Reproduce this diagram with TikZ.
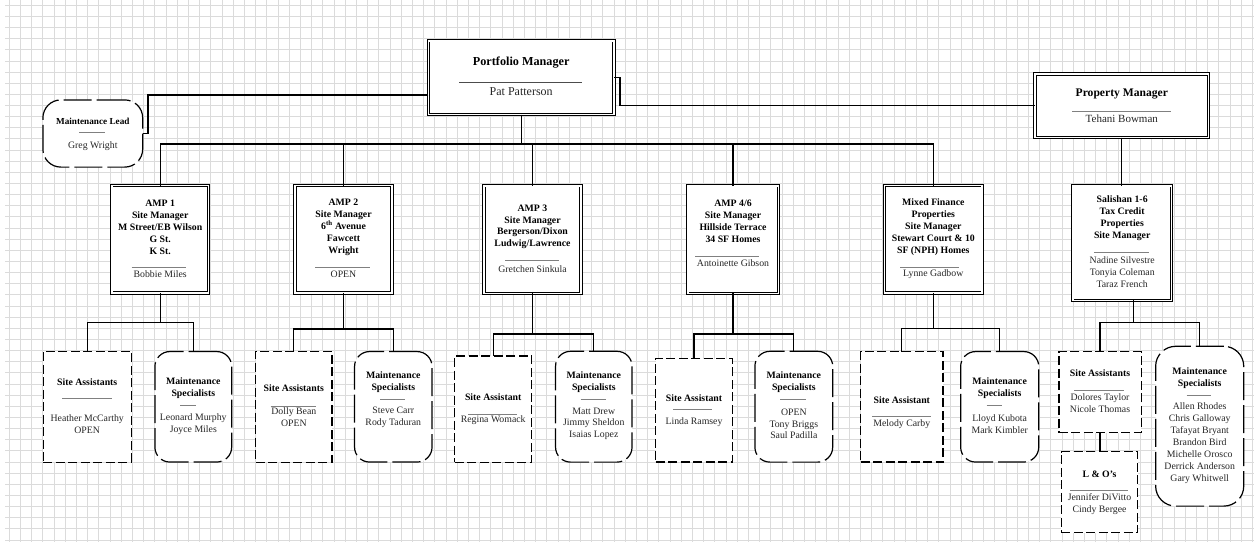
\documentclass[tikz,border=0pt]{standalone}
\usepackage{fontspec}
\setmainfont{Liberation Serif}
\begin{document}
\begin{tikzpicture}[x=1pt,y=-1pt,
  gridline/.style={draw=black!14, line width=1pt},
  mainbox/.style={draw, double, line width=0.9pt, double distance=1.6pt, fill=white, inner sep=0pt, outer sep=0pt},
  dashbox/.style={draw, line width=1.2pt, dash pattern=on 9pt off 3.5pt, fill=white, inner sep=0pt, outer sep=0pt},
  roundbox/.style={draw, line width=1.2pt, rounded corners=15pt, dash pattern=on 28pt off 5pt, fill=white, inner sep=0pt, outer sep=0pt},
  conn/.style={line width=1.1pt},
  sepl/.style={draw=black!50, line width=0.6pt},
  txt/.style={font=\fontsize{9.8}{11.9}\selectfont, align=center, inner sep=0pt, text=black!85},
  hd/.style={font=\fontsize{9.8}{11.9}\selectfont\bfseries, align=center, inner sep=0pt},
  bighd/.style={font=\fontsize{12.2}{14}\selectfont\bfseries, align=center, inner sep=0pt},
  bigtxt/.style={font=\fontsize{12}{14}\selectfont, align=center, inner sep=0pt, text=black!85},
]
\useasboundingbox (0,0) rectangle (1254,542);
\fill[white] (0,0) rectangle (1254,542);
% grid
\foreach \i in {0,...,111} \draw[gridline] ({9.3+11.2*\i},0) -- ({9.3+11.2*\i},542);
\foreach \j in {0,...,48} \draw[gridline] (5,{5.3+11.14*\j}) -- (1254,{5.3+11.14*\j});

% bus coordinates
\coordinate (bt) at (0,144);
\coordinate (b1) at (0,322.7);
\coordinate (b2) at (0,329);
\coordinate (b3) at (0,334);
\coordinate (b4) at (0,334);
\coordinate (b5) at (0,328.3);
\coordinate (b6) at (0,322.7);

% top level boxes
\node[mainbox, minimum width=185.6pt, minimum height=73.9pt] (pm) at (521.2,77.7) {};
\node[mainbox, minimum width=173.6pt, minimum height=63.6pt] (prm) at (1121.8,105.8) {};
\node[roundbox, rounded corners=18pt, minimum width=99.8pt, minimum height=67.2pt] (ml) at (92.8,133.5) {};

% second level
\node[mainbox, minimum width=96.9pt, minimum height=107.3pt] (amp1) at (160.2,239.3) {};
\node[mainbox, minimum width=97pt, minimum height=107.3pt] (amp2) at (343.5,239.3) {};
\node[mainbox, minimum width=97pt, minimum height=107.6pt] (amp3) at (532.5,239.5) {};
\node[mainbox, minimum width=90.6pt, minimum height=107.6pt] (amp4) at (733,239.5) {};
\node[mainbox, minimum width=97.9pt, minimum height=107.3pt] (amp5) at (933.3,239.3) {};
\node[mainbox, minimum width=98.9pt, minimum height=114.6pt] (sal) at (1122.2,243) {};

% third level
\node[dashbox, minimum width=87.8pt, minimum height=110.8pt] (sa1) at (87.2,406.7) {};
\node[roundbox, minimum width=76.8pt, minimum height=110.5pt] (ms1) at (193.3,406.8) {};
\node[dashbox, minimum width=76.5pt, minimum height=110.8pt] (sa2) at (293.8,406.7) {};
\node[roundbox, minimum width=77.5pt, minimum height=110.5pt] (ms2) at (393.3,406.8) {};
\node[dashbox, minimum width=77.1pt, minimum height=106.2pt] (sa3) at (493.2,409) {};
\node[roundbox, minimum width=76.5pt, minimum height=110.8pt] (ms3) at (593.8,406.7) {};
\node[dashbox, minimum width=76.8pt, minimum height=103.5pt] (sa4) at (694,410.3) {};
\node[roundbox, minimum width=77.8pt, minimum height=110.8pt] (ms4) at (793.8,406.7) {};
\node[dashbox, minimum width=82.5pt, minimum height=110.5pt] (sa5) at (901.8,406.8) {};
\node[roundbox, minimum width=78.1pt, minimum height=110.5pt] (ms5) at (999.7,406.8) {};
\node[dashbox, minimum width=82.2pt, minimum height=81.1pt] (sa6) at (1100,392.2) {};
\node[dashbox, minimum width=76.4pt, minimum height=81.1pt] (lo) at (1099.5,492.2) {};
\node[roundbox, rounded corners=20pt, minimum width=88.1pt, minimum height=159.8pt] (ms6) at (1199.7,426.2) {};

% connectors
\draw[conn] ([yshift=-17.3pt]pm.west) -| ([xshift=5.3pt]ml.east) -- (ml.east);
\draw[conn] (pm.east) -- ++(6,0) |- (prm.west);
\draw[conn] (pm.south) -- (pm.south |- bt);
\draw[conn] (amp1.north) |- (bt -| amp5.north) -- (amp5.north);
\foreach \n in {amp2,amp3,amp4} \draw[conn] (\n.north) -- (\n.north |- bt);
\draw[conn] (prm.south) -- (prm.south |- sal.north);

\draw[conn] (amp1.south) -- (amp1.south |- b1);
\draw[conn] (sa1.north) |- (b1 -| ms1.north) -- (ms1.north);
\draw[conn] (amp2.south) -- (amp2.south |- b2);
\draw[conn] (sa2.north) |- (b2 -| ms2.north) -- (ms2.north);
\draw[conn] (amp3.south) -- (amp3.south |- b3);
\draw[conn] (sa3.north) |- (b3 -| ms3.north) -- (ms3.north);
\draw[conn] (amp4.south) -- (amp4.south |- b4);
\draw[conn] (sa4.north) |- (b4 -| ms4.north) -- (ms4.north);
\draw[conn] (amp5.south) -- (amp5.south |- b5);
\draw[conn] (sa5.north) |- (b5 -| ms5.north) -- (ms5.north);
\coordinate (sj) at ([xshift=11.1pt]sal.south);
\draw[conn] (sj) -- (sj |- b6);
\draw[conn] (sa6.north) |- (b6 -| ms6.north) -- (ms6.north);
\draw[conn] (sa6.south) -- (sa6.south |- lo.north);

% texts: top
\node[bighd] (pmh) at (521.2,62.5) {Portfolio Manager};
\draw[sepl, draw=black!70] (459,82.7) -- (582,82.7);
\node[bigtxt] (pmn) at (521.2,91.4) {Pat Patterson};

\node[bighd, font=\fontsize{11.6}{14}\selectfont\bfseries] (prmh) at (1121.8,93.5) {Property Manager};
\draw[sepl] (1072.3,111) -- (1170.7,111);
\node[bigtxt, font=\fontsize{11}{13}\selectfont] (prmn) at (1121.8,118.5) {Tehani Bowman};

\node[hd, font=\fontsize{9.2}{11}\selectfont\bfseries] (mlh) at (92.8,121.2) {Maintenance Lead};
\draw[sepl] (79.3,132.7) -- (105.3,132.7);
\node[txt] (mln) at (92.8,146) {Greg Wright};

% second level texts
\node[hd] (amp1h) at (160.2,227.2) {AMP 1\\Site Manager\\M Street/EB Wilson\\G St.\\K St.};
\draw[sepl] (131.7,267.7) -- (186,267.7);
\node[txt] (amp1n) at (160.2,274.3) {Bobbie Miles};

\node[hd] (amp2h) at (343.5,227.2) {AMP 2\\Site Manager\\6\textsuperscript{th} Avenue\\Fawcett\\Wright};
\draw[sepl] (315,267.7) -- (370,267.7);
\node[txt] (amp2n) at (343.5,274.3) {OPEN};

\node[hd] (amp3h) at (532.5,226.8) {AMP 3\\Site Manager\\Bergerson/Dixon\\Ludwig/Lawrence};
\draw[sepl] (505,260.3) -- (559.3,260.3);
\node[txt] (amp3n) at (532.5,268.7) {Gretchen Sinkula};

\node[hd] (amp4h) at (733,221.2) {AMP 4/6\\Site Manager\\Hillside Terrace\\34 SF Homes};
\draw[sepl] (695.3,256) -- (758.7,256);
\node[txt] (amp4n) at (733,262.7) {Antoinette Gibson};

\node[hd] (amp5h) at (933.3,227.2) {Mixed Finance\\Properties\\Site Manager\\Stewart Court \& 10\\SF (NPH) Homes};
\draw[sepl] (900,267.7) -- (959.3,267.7);
\node[txt] (amp5n) at (933.3,274.3) {Lynne Gadbow};

\node[hd] (salh) at (1122.2,218.5) {Salishan 1-6\\Tax Credit\\Properties\\Site Manager};
\draw[sepl] (1094.3,252) -- (1148.7,252);
\node[txt] (saln) at (1122.2,271.8) {Nadine Silvestre\\Tonyia Coleman\\Taraz French};

% third level texts
\node[hd] (sa1h) at (87.2,382.3) {Site Assistants};
\draw[sepl] (62,398.7) -- (111.7,398.7);
\node[txt] (sa1n) at (87.2,423.8) {Heather McCarthy\\OPEN};
\node[hd] (ms1h) at (193.3,388.5) {Maintenance\\Specialists};
\draw[sepl] (180,405.3) -- (195.7,405.3);
\node[txt] (ms1n) at (193.3,424) {Leonard Murphy\\Joyce Miles};

\node[hd] (sa2h) at (293.8,388) {Site Assistants};
\draw[sepl] (270.7,406) -- (316,406);
\node[txt] (sa2n) at (293.8,417.5) {Dolly Bean\\OPEN};
\node[hd] (ms2h) at (393.3,382) {Maintenance\\Specialists};
\draw[sepl] (380,399) -- (405,399);
\node[txt] (ms2n) at (393.3,417.5) {Steve Carr\\Rody Taduran};

\node[hd] (sa3h) at (493.2,397) {Site Assistant};
\draw[sepl] (468.3,414.3) -- (517.3,414.3);
\node[txt] (sa3n) at (493.2,420.5) {Regina Womack};
\node[hd] (ms3h) at (593.8,382) {Maintenance\\Specialists};
\draw[sepl] (580.7,399) -- (605.7,399);
\node[txt] (ms3n) at (593.8,423.8) {Matt Drew\\Jimmy Sheldon\\Isaias Lopez};

\node[hd] (sa4h) at (694,397.7) {Site Assistant};
\draw[sepl] (673.3,409.3) -- (711.7,409.3);
\node[txt] (sa4n) at (694,422) {Linda Ramsey};
\node[hd] (ms4h) at (793.8,382) {Maintenance\\Specialists};
\draw[sepl] (780,399) -- (806,399);
\node[txt] (ms4n) at (793.8,423.8) {OPEN\\Tony Briggs\\Saul Padilla};

\node[hd] (sa5h) at (901.8,400) {Site Assistant};
\draw[sepl] (872.3,416.7) -- (931,416.7);
\node[txt] (sa5n) at (901.8,424.3) {Melody Carby};
\node[hd] (ms5h) at (999.7,388.3) {Maintenance\\Specialists};
\draw[sepl] (986.7,405.3) -- (1001.7,405.3);
\node[txt] (ms5n) at (999.7,424) {Lloyd Kubota\\Mark Kimbler};

\node[hd] (sa6h) at (1100,373.3) {Site Assistants};
\draw[sepl] (1074.3,390.3) -- (1123.7,390.3);
\node[txt] (sa6n) at (1100,403.3) {Dolores Taylor\\Nicole Thomas};
\node[hd] (loh) at (1099.5,474.3) {L \& O’s};
\draw[sepl] (1070,490.7) -- (1128.3,490.7);
\node[txt] (lon) at (1099.5,503.8) {Jennifer DiVitto\\Cindy Bergee};
\node[hd] (ms6h) at (1199.7,377.8) {Maintenance\\Specialists};
\draw[sepl] (1186.7,395.3) -- (1211,395.3);
\node[txt] (ms6n) at (1199.7,443) {Allen Rhodes\\Chris Galloway\\Tafayat Bryant\\Brandon Bird\\Michelle Orosco\\Derrick Anderson\\Gary Whitwell};
\end{tikzpicture}
\end{document}
